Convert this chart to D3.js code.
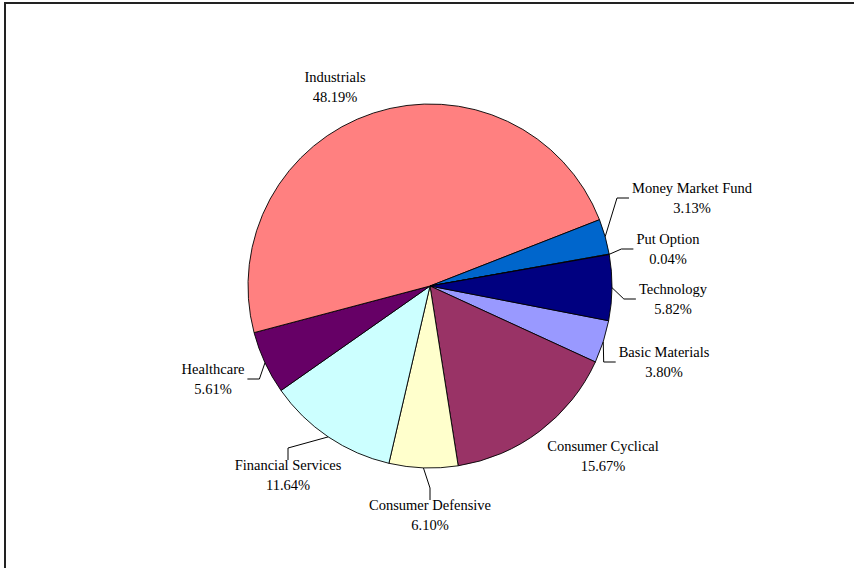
<!DOCTYPE html>
<html lang="en">

<head>
  <meta charset="UTF-8" />
  <title>Sector pie</title>
  <script src="https://d3js.org/d3.v7.min.js"></script>
  <style>
    body {
      margin: 0;
      background: #fff;
    }

    text {
      font-family: "Liberation Serif", "Times New Roman", serif;
      font-size: 14.5px;
      fill: #000;
    }
  </style>
</head>

<body>
  <script>
    //data (alphabetical, drawn clockwise like the original)
    const sectors = ['Basic Materials', 'Consumer Cyclical', 'Consumer Defensive', 'Financial Services', 'Healthcare', 'Industrials', 'Money Market Fund', 'Put Option', 'Technology'];
    const percents = [3.80, 15.67, 6.10, 11.64, 5.61, 48.19, 3.13, 0.04, 5.82];
    const colors = ['#9999FF', '#993366', '#FFFFCC', '#CCFFFF', '#660066', '#FF8080', '#0066CC', '#CCCCFF', '#000080'];

    //layout
    const width = 854, height = 568;
    const cx = 430, cy = 286, radius = 182;
    const startDeg = 101;
    // label centre offsets from the pie centre, and which side the leader line attaches to
    const labelOffsets = [[234, 76], [173, 170], [0, 229], [-142, 189], [-217, 93], [-95, -199], [262, -88], [238, -37], [243, 13]];
    const leaderSide = ['left', null, 'top', 'top', 'right', null, 'left', 'left', 'left'];

    const svg = d3.select('body').append('svg')
      .attr('width', width)
      .attr('height', height);

    //frame
    svg.append('rect')
      .attr('x', 5).attr('y', 3)
      .attr('width', 870).attr('height', 590)
      .attr('fill', 'none')
      .attr('stroke', '#222')
      .attr('stroke-width', 2);

    const g = svg.append('g')
      .attr('transform', `translate(${cx},${cy})`);

    const pie = d3.pie()
      .sort(null)
      .value(d => d)
      .startAngle(startDeg * Math.PI / 180)
      .endAngle(startDeg * Math.PI / 180 + 2 * Math.PI);

    const arcs = pie(percents);
    const arc = d3.arc().innerRadius(0).outerRadius(radius);

    g.selectAll('.slice')
      .data(arcs)
      .join('path')
      .attr('class', 'slice')
      .attr('d', arc)
      .attr('fill', (d, i) => colors[i])
      .attr('stroke', '#000')
      .attr('stroke-width', 0.9);

    //labels
    const labels = g.selectAll('.label')
      .data(arcs)
      .join('text')
      .attr('class', 'label')
      .attr('text-anchor', 'middle')
      .attr('transform', (d, i) => `translate(${labelOffsets[i][0]},${labelOffsets[i][1]})`);

    labels.append('tspan')
      .attr('x', 0).attr('y', -5)
      .text((d, i) => sectors[i]);
    labels.append('tspan')
      .attr('x', 0).attr('y', 15)
      .text((d, i) => percents[i].toFixed(2) + '%');

    //leader lines
    const line = d3.line();
    labels.each(function (d, i) {
      const side = leaderSide[i];
      if (!side) return;
      const bb = this.getBBox();
      const ox = labelOffsets[i][0], oy = labelOffsets[i][1];
      const mid = (d.startAngle + d.endAngle) / 2;
      const edge = [radius * Math.sin(mid), -radius * Math.cos(mid)];
      let end, elbow;
      if (side === 'left') {
        end = [ox + bb.x - 3, oy];
        elbow = [end[0] - 12, oy];
      } else if (side === 'right') {
        end = [ox + bb.x + bb.width + 3, oy];
        elbow = [end[0] + 12, oy];
      } else {
        end = [ox, oy + bb.y + 3];
        elbow = [ox, end[1] - 12];
      }
      g.append('path')
        .attr('d', line([edge, elbow, end]))
        .attr('fill', 'none')
        .attr('stroke', '#000')
        .attr('stroke-width', 1);
    });
  </script>
</body>

</html>
